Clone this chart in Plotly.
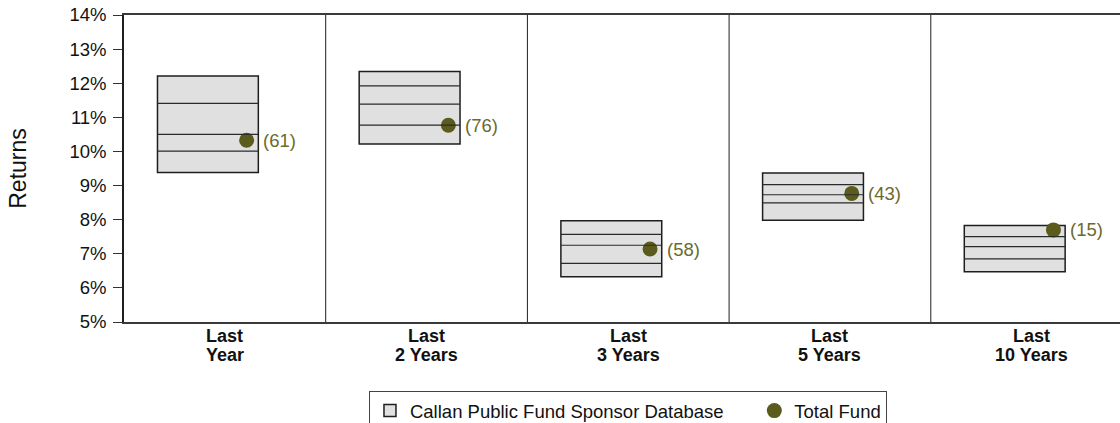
import plotly.graph_objects as go

# -------------------------------------------------------
# Data (returns in %)
# -------------------------------------------------------

period_line1 = ["Last", "Last", "Last", "Last", "Last"]
period_line2 = ["Year", "2 Years", "3 Years", "5 Years", "10 Years"]

p10 = [12.21, 12.34, 7.97, 9.37, 7.83]
p25 = [11.41, 11.92, 7.57, 9.03, 7.50]
median = [10.50, 11.39, 7.25, 8.73, 7.21]
p75 = [10.01, 10.77, 6.72, 8.49, 6.85]
p90 = [9.38, 10.22, 6.33, 7.98, 6.47]

fund = [10.33, 10.77, 7.14, 8.77, 7.70]
fund_rank = [61, 76, 58, 43, 15]

y_ticks = [5, 6, 7, 8, 9, 10, 11, 12, 13, 14]

FONT = "Liberation Sans, Arial, sans-serif"
OLIVE = "#5c5b1e"

pos = list(range(len(period_line2)))

fig = go.Figure()

# floating bars = 10th..90th percentile range
fig.add_trace(go.Bar(
    x=pos,
    y=[t - b for t, b in zip(p10, p90)],
    base=p90,
    width=0.5,
    offset=-0.334,
    marker=dict(color="#e0e0e0", line=dict(color="#1e1e1e", width=1.5)),
    name="Callan Public Fund Sponsor Database\u00a0\u00a0\u00a0\u00a0\u00a0",
    hoverinfo="skip",
))

# percentile lines inside each box
for i in pos:
    for v in (p25[i], median[i], p75[i]):
        fig.add_shape(
            type="line", xref="x", yref="y",
            x0=i - 0.334, x1=i + 0.166, y0=v, y1=v,
            line=dict(color="#2a2a2a", width=1.2),
        )

fig.add_trace(go.Scatter(
    x=[i + 0.108 for i in pos],
    y=fund,
    mode="markers",
    marker=dict(color=OLIVE, size=15),
    name="Total Fund",
))

for i in pos:
    fig.add_annotation(
        x=i + 0.166, y=fund[i], xref="x", yref="y",
        text=f"({fund_rank[i]})", showarrow=False,
        xanchor="left", xshift=3,
        font=dict(family=FONT, size=18.5, color="#6b6a2c"),
    )

# category labels, two tight lines each
for i in pos:
    for txt, shift in ((period_line1[i], -14), (period_line2[i], -33)):
        fig.add_annotation(
            x=i, y=0, xref="x", yref="paper",
            text=f"<b>{txt}</b>", showarrow=False,
            yanchor="middle", yshift=shift,
            font=dict(family=FONT, size=18, color="#111"),
        )

# panel separators
for i in pos[:-1]:
    fig.add_shape(
        type="line", xref="x", yref="paper",
        x0=i + 0.5, x1=i + 0.5, y0=0, y1=1,
        line=dict(color="#1e1e1e", width=1),
    )

fig.update_layout(
    width=1120,
    height=423,
    margin=dict(l=124, r=0, t=15, b=101, autoexpand=False),
    plot_bgcolor="white",
    paper_bgcolor="white",
    font=dict(family=FONT, size=18, color="#111"),
    showlegend=True,
    legend=dict(
        orientation="h",
        x=0.506, xanchor="center",
        y=-0.225, yanchor="top",
        bordercolor="#444", borderwidth=1,
        font=dict(size=18.5),
    ),
    xaxis=dict(
        range=[-0.5, 4.438],
        tickvals=pos,
        showticklabels=False,
        showline=True, linecolor="#3a3a3a", linewidth=1.5,
        mirror=True,
        showgrid=False, zeroline=False,
        ticks="",
    ),
    yaxis=dict(
        range=[5, 14],
        tickvals=y_ticks,
        ticktext=[f"{t}%" for t in y_ticks],
        showline=True, linecolor="#1e1e1e", linewidth=1.5,
        showgrid=False, zeroline=False,
        ticks="outside", ticklen=9, tickcolor="#333",
        ticklabelstandoff=3,
        tickfont=dict(size=18.5, color="#111"),
        title=dict(text="Returns", standoff=36, font=dict(size=23)),
    ),
)

fig.write_html(
    "out.html",
    config={"displayModeBar": False},
    post_script="document.body.style.margin='0';",
)
